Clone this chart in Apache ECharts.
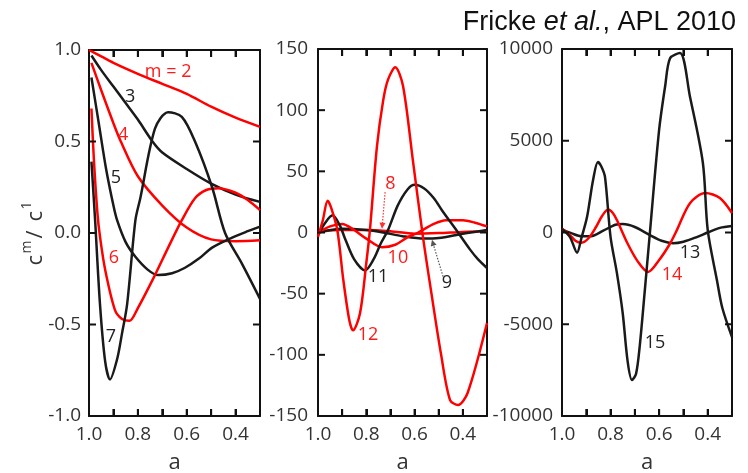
<!DOCTYPE html>
<html><head><meta charset="utf-8">
<script src="https://cdn.jsdelivr.net/npm/echarts@6/dist/echarts.min.js"></script>
<style>html,body{margin:0;padding:0;background:#fff}#c{width:748px;height:473px}</style>
</head><body><div id="c"></div>
<script>
// x values are "a" (axis runs 1.0 -> 0.3)
const xTickLabels = ['1.0', '0.8', '0.6', '0.4'];
const xTickValues = [0.9, 0.8, 0.7, 0.6, 0.5, 0.4];
const yTickValues = [[-0.5, 0, 0.5], [-100, -50, 0, 50, 100], [-5000, 0, 5000]];
// ---- Panel 1 ----
const m2 = [[1.0,1.0],[0.95,0.965],[0.9,0.93],[0.8,0.87],[0.7,0.815],[0.6,0.76],[0.5,0.69],[0.4,0.63],[0.3,0.58]];
const m3 = [[0.99,0.97],[0.95,0.89],[0.9,0.8],[0.85,0.71],[0.8,0.62],[0.74,0.5],[0.7,0.44],[0.6,0.35],[0.5,0.27],[0.4,0.21],[0.3,0.17]];
const m4 = [[0.99,0.93],[0.95,0.78],[0.9,0.6],[0.873,0.51],[0.8,0.31],[0.7,0.15],[0.6,0.03],[0.5,-0.035],[0.4,-0.045],[0.3,-0.04]];
const m5 = [[0.99,0.85],[0.96,0.6],[0.93,0.35],[0.9,0.15],[0.885,0.07],[0.85,-0.05],[0.81,-0.13],[0.76,-0.2],[0.717,-0.23],[0.66,-0.22],[0.607,-0.19],[0.55,-0.14],[0.496,-0.08],[0.414,-0.025],[0.35,0.01],[0.3,0.035]];
const m6 = [[0.99,0.68],[0.98,0.4],[0.965,0.1],[0.955,-0.02],[0.934,-0.2],[0.894,-0.42],[0.865,-0.47],[0.835,-0.48],[0.8,-0.41],[0.73,-0.23],[0.676,-0.08],[0.62,0.07],[0.566,0.19],[0.52,0.235],[0.47,0.245],[0.4,0.22],[0.35,0.18],[0.3,0.125]];
const m7 = [[0.99,0.39],[0.975,0.07],[0.955,-0.39],[0.934,-0.7],[0.914,-0.8],[0.885,-0.69],[0.865,-0.55],[0.844,-0.39],[0.81,0.07],[0.79,0.19],[0.73,0.57],[0.676,0.66],[0.62,0.635],[0.566,0.5],[0.496,0.25],[0.443,0.0],[0.373,-0.17],[0.3,-0.36]];
// ---- Panel 2 ----
const m8 = [[1.0,0],[0.92,2],[0.8,2],[0.7,1],[0.6,-1],[0.5,-0.5],[0.4,0.5],[0.3,1]];
const m9 = [[1.0,0],[0.9,3],[0.8,2],[0.73,0],[0.65,-3],[0.56,-5],[0.5,-4.5],[0.4,-1],[0.3,2]];
const m10 = [[1.0,0],[0.95,5],[0.9,7],[0.85,2],[0.8,-5],[0.735,-12],[0.68,-10],[0.63,-4],[0.585,0],[0.52,7],[0.47,10],[0.4,10],[0.35,8],[0.3,5]];
const m11 = [[1.0,-2],[0.97,8],[0.94,14],[0.91,6],[0.89,-4],[0.85,-22],[0.805,-31],[0.77,-22],[0.74,-9],[0.71,2],[0.67,22],[0.63,35],[0.6,39],[0.56,36],[0.52,28],[0.486,18],[0.42,0],[0.37,-14],[0.337,-22],[0.3,-29]];
const m12 = [[1.0,-3.5],[0.98,10],[0.96,26],[0.945,20],[0.92,2],[0.895,-39],[0.87,-72],[0.855,-80],[0.826,-66],[0.8,-25],[0.785,2],[0.756,70],[0.73,108],[0.71,125],[0.68,135],[0.648,120],[0.607,59],[0.565,-4],[0.53,-50],[0.49,-100],[0.453,-137],[0.42,-141],[0.38,-131],[0.3,-74]];
// ---- Panel 3 ----
const m13 = [[1.0,150],[0.96,-50],[0.92,-200],[0.88,-200],[0.83,100],[0.78,420],[0.75,460],[0.7,300],[0.64,-130],[0.59,-450],[0.543,-580],[0.5,-500],[0.445,-250],[0.4,0],[0.35,250],[0.3,350]];
const m14 = [[1.0,200],[0.97,-100],[0.945,-450],[0.92,-560],[0.89,-300],[0.86,300],[0.835,900],[0.81,1250],[0.79,1050],[0.774,680],[0.73,-600],[0.687,-1600],[0.646,-2150],[0.6,-1500],[0.555,-600],[0.527,130],[0.473,1600],[0.41,2150],[0.35,1880],[0.3,1060]];
const m15 = [[1.0,200],[0.967,-250],[0.938,-1100],[0.92,-300],[0.897,840],[0.872,2860],[0.852,3840],[0.838,3600],[0.823,3030],[0.8,-250],[0.774,-2200],[0.75,-4400],[0.73,-7000],[0.712,-8040],[0.695,-7700],[0.68,-6200],[0.66,-3300],[0.638,0],[0.6,5600],[0.575,8000],[0.555,9500],[0.514,9780],[0.473,7400],[0.42,3800],[0.4,140],[0.362,-2600],[0.34,-4100],[0.3,-5700]];
// curve labels: [a, value, text, colour]
const labels1 = [[0.676,0.88,'m = 2','#ff1a1a'],[0.832,0.743,'3','#222'],[0.86,0.535,'4','#ff1a1a'],[0.89,0.30,'5','#222'],[0.898,-0.137,'6','#ff1a1a'],[0.91,-0.568,'7','#222']];
const labels2 = [[0.70,40,'8','#ff1a1a'],[0.466,-41,'9','#222'],[0.669,-21,'10','#ff1a1a'],[0.751,-36,'11','#222'],[0.793,-84,'12','#ff1a1a']];
const labels3 = [[0.473,-1120,'13','#222'],[0.547,-2320,'14','#ff1a1a'],[0.617,-6020,'15','#222']];
// dotted pointer arrows in panel 2: [a0, v0, a1, v1] (arrow head at a1, v1)
const arrows2 = [[0.722,33,0.735,3],[0.482,-36,0.528,-6]];
const arrowColors = ['#ff3030', '#555'];

const RED = '#ff0000', BLK = '#1a1a1a', AX = '#111';
const FONT = '"Open Sans", "Noto Sans", sans-serif';
const grids = [
  {left: 89, top: 50, width: 171, height: 366, outerBoundsMode: 'none', containLabel: false},
  {left: 318, top: 49, width: 169, height: 367, outerBoundsMode: 'none', containLabel: false},
  {left: 562, top: 49, width: 170, height: 367, outerBoundsMode: 'none', containLabel: false}
];
const X_MIN = 0.3, X_MAX = 1.0;
const yRanges = [[-1, 1, 0.5, 8], [-150, 150, 50, 10], [-10000, 10000, 5000, 9]];

function line() { return {show: true, onZero: false, lineStyle: {color: AX, width: 2}}; }
function xtick() { return {show: true, inside: true, length: 7, lineStyle: {color: AX, width: 2}}; }
const xAxes = [], yAxes = [];
for (let i = 0; i < 3; i++) {
  xAxes.push({
    type: 'value', gridIndex: i, min: X_MIN, max: X_MAX, interval: 0.1, inverse: true, position: 'bottom',
    name: 'a', nameLocation: 'middle', nameGap: 36,
    nameTextStyle: {fontFamily: FONT, fontSize: 22, color: '#333'},
    axisLine: line(), axisTick: xtick(),
    axisLabel: {margin: 9, fontFamily: FONT, fontSize: 19, color: '#333',
      formatter: v => { const s = v.toFixed(1); return xTickLabels.indexOf(s) >= 0 ? s : ''; }},
    splitLine: {show: false}
  });
}
for (let i = 0; i < 3; i++) {
  xAxes.push({
    type: 'value', gridIndex: i, min: X_MIN, max: X_MAX, interval: 0.1, inverse: true, position: 'top',
    axisLine: line(), axisTick: xtick(), axisLabel: {show: false}, splitLine: {show: false}
  });
}
for (let i = 0; i < 3; i++) {
  const r = yRanges[i];
  yAxes.push({
    type: 'value', gridIndex: i, min: r[0], max: r[1], interval: r[2], position: 'left',
    axisLine: line(), axisTick: {show: false},
    axisLabel: {margin: r[3], fontFamily: FONT, fontSize: 19, color: '#333',
      formatter: v => i === 0 ? v.toFixed(1) : String(Math.round(v))},
    splitLine: {show: false}
  });
}
for (let i = 0; i < 3; i++) {
  const r = yRanges[i];
  yAxes.push({
    type: 'value', gridIndex: i, min: r[0], max: r[1], interval: r[2], position: 'right',
    axisLine: line(), axisTick: {show: false}, axisLabel: {show: false}, splitLine: {show: false}
  });
}

const TL = 7; // tick length (px)
function tickSeries(gi) {
  const r = yRanges[gi];
  const data = xTickValues.map(v => [v, r[0], r[1], 0]).concat(yTickValues[gi].map(v => [X_MAX, v, X_MIN, 1]));
  return {type: 'custom', xAxisIndex: gi, yAxisIndex: gi, clip: false, silent: true, z: 10,
    encode: {x: 0, y: 1}, data: data,
    renderItem: (params, api) => {
      const st = {stroke: AX, lineWidth: 2};
      if (api.value(3) === 0) {
        const v = api.value(0);
        const p1 = api.coord([v, api.value(1)]), p2 = api.coord([v, api.value(2)]);
        return {type: 'group', children: [
          {type: 'line', shape: {x1: p1[0], y1: p1[1], x2: p1[0], y2: p1[1] - TL}, style: st},
          {type: 'line', shape: {x1: p2[0], y1: p2[1], x2: p2[0], y2: p2[1] + TL}, style: st}]};
      } else {
        const v = api.value(1);
        const p1 = api.coord([api.value(0), v]), p2 = api.coord([api.value(2), v]);
        return {type: 'group', children: [
          {type: 'line', shape: {x1: p1[0], y1: p1[1], x2: p1[0] + TL, y2: p1[1]}, style: st},
          {type: 'line', shape: {x1: p2[0], y1: p2[1], x2: p2[0] - TL, y2: p2[1]}, style: st}]};
      }
    }};
}
function labelSeries(list, gi) {
  return {type: 'custom', xAxisIndex: gi, yAxisIndex: gi, clip: false, silent: true, z: 12,
    data: list.map(l => [l[0], l[1]]),
    renderItem: (params, api) => {
      const l = list[params.dataIndex];
      const p = api.coord([api.value(0), api.value(1)]);
      return {type: 'text', x: p[0], y: p[1], style: {text: l[2], fill: l[3], font: '18px ' + FONT,
        align: 'center', verticalAlign: 'middle', textAlign: 'center', textVerticalAlign: 'middle'}};
    }};
}
function arrowSeries(list, gi) {
  return {type: 'custom', xAxisIndex: gi, yAxisIndex: gi, clip: false, silent: true, z: 11,
    data: list.map((a, k) => [a[0], a[1], a[2], a[3], k]),
    renderItem: (params, api) => {
      const p1 = api.coord([api.value(0), api.value(1)]), p2 = api.coord([api.value(2), api.value(3)]);
      const col = arrowColors[api.value(4)];
      const dx = p2[0] - p1[0], dy = p2[1] - p1[1], L = Math.sqrt(dx * dx + dy * dy), ux = dx / L, uy = dy / L;
      const kids = [];
      for (let s = 0; s < L - 5; s += 3) {
        kids.push({type: 'line', shape: {x1: p1[0] + ux * s, y1: p1[1] + uy * s, x2: p1[0] + ux * (s + 1.5), y2: p1[1] + uy * (s + 1.5)},
          style: {stroke: col, lineWidth: 1.2}});
      }
      const bx = p2[0] - ux * 6, by = p2[1] - uy * 6;
      kids.push({type: 'polygon', shape: {points: [[p2[0], p2[1]], [bx - uy * 3, by + ux * 3], [bx + uy * 3, by - ux * 3]]},
        style: {fill: col}});
      return {type: 'group', children: kids};
    }};
}
// y-axis name c^m / c^1, anchored to the left edge of panel 1 at value 0
function yNameSeries() {
  return {type: 'custom', xAxisIndex: 0, yAxisIndex: 0, clip: false, silent: true, z: 12,
    data: [[X_MAX, 0]],
    renderItem: (params, api) => {
      const p = api.coord([api.value(0), api.value(1)]);
      const t = (txt, x, y, size, al) => ({type: 'text', x: x, y: y, style: {text: txt, fill: '#333', font: size + 'px ' + FONT,
        align: al || 'left', verticalAlign: 'middle', textAlign: al || 'left', textVerticalAlign: 'middle'}});
      return {type: 'group', x: p[0] - 53, y: p[1] + 0.5, rotation: Math.PI / 2, children: [
        t('c', -32, 0, 22), t('m', -20, -9, 14), t('/', -1, 0, 22, 'center'), t('c', 12, 0, 22), t('1', 24, -9, 14)]};
    }};
}

function curve(data, color, gi) {
  return {type: 'line', xAxisIndex: gi, yAxisIndex: gi, data: data, smooth: 0.3, symbol: 'none',
    lineStyle: {color: color, width: 2.5}, z: 3};
}

const series = [
  tickSeries(0), tickSeries(1), tickSeries(2),
  curve(m2, RED, 0), curve(m3, BLK, 0), curve(m4, RED, 0), curve(m5, BLK, 0), curve(m6, RED, 0), curve(m7, BLK, 0),
  curve(m8, RED, 1), curve(m9, BLK, 1), curve(m10, RED, 1), curve(m11, BLK, 1), curve(m12, RED, 1),
  curve(m13, BLK, 2), curve(m14, RED, 2), curve(m15, BLK, 2),
  arrowSeries(arrows2, 1),
  labelSeries(labels1, 0), labelSeries(labels2, 1), labelSeries(labels3, 2),
  yNameSeries()
];

const chart = echarts.init(document.getElementById('c'), null, {renderer: 'canvas'});
chart.setOption({
  animation: false,
  title: {
    text: '{n|Fricke }{i|et al.}{n|, APL 2010}', right: 12, top: 9, padding: 0,
    textStyle: {rich: {
      n: {fontFamily: '"Liberation Sans", Arial, sans-serif', fontSize: 27, fontWeight: 'normal', color: '#111'},
      i: {fontFamily: '"Liberation Sans", Arial, sans-serif', fontSize: 27, fontWeight: 'normal', fontStyle: 'italic', color: '#111'}}}
  },
  grid: grids,
  xAxis: xAxes,
  yAxis: yAxes,
  series: series
});
</script></body></html>
